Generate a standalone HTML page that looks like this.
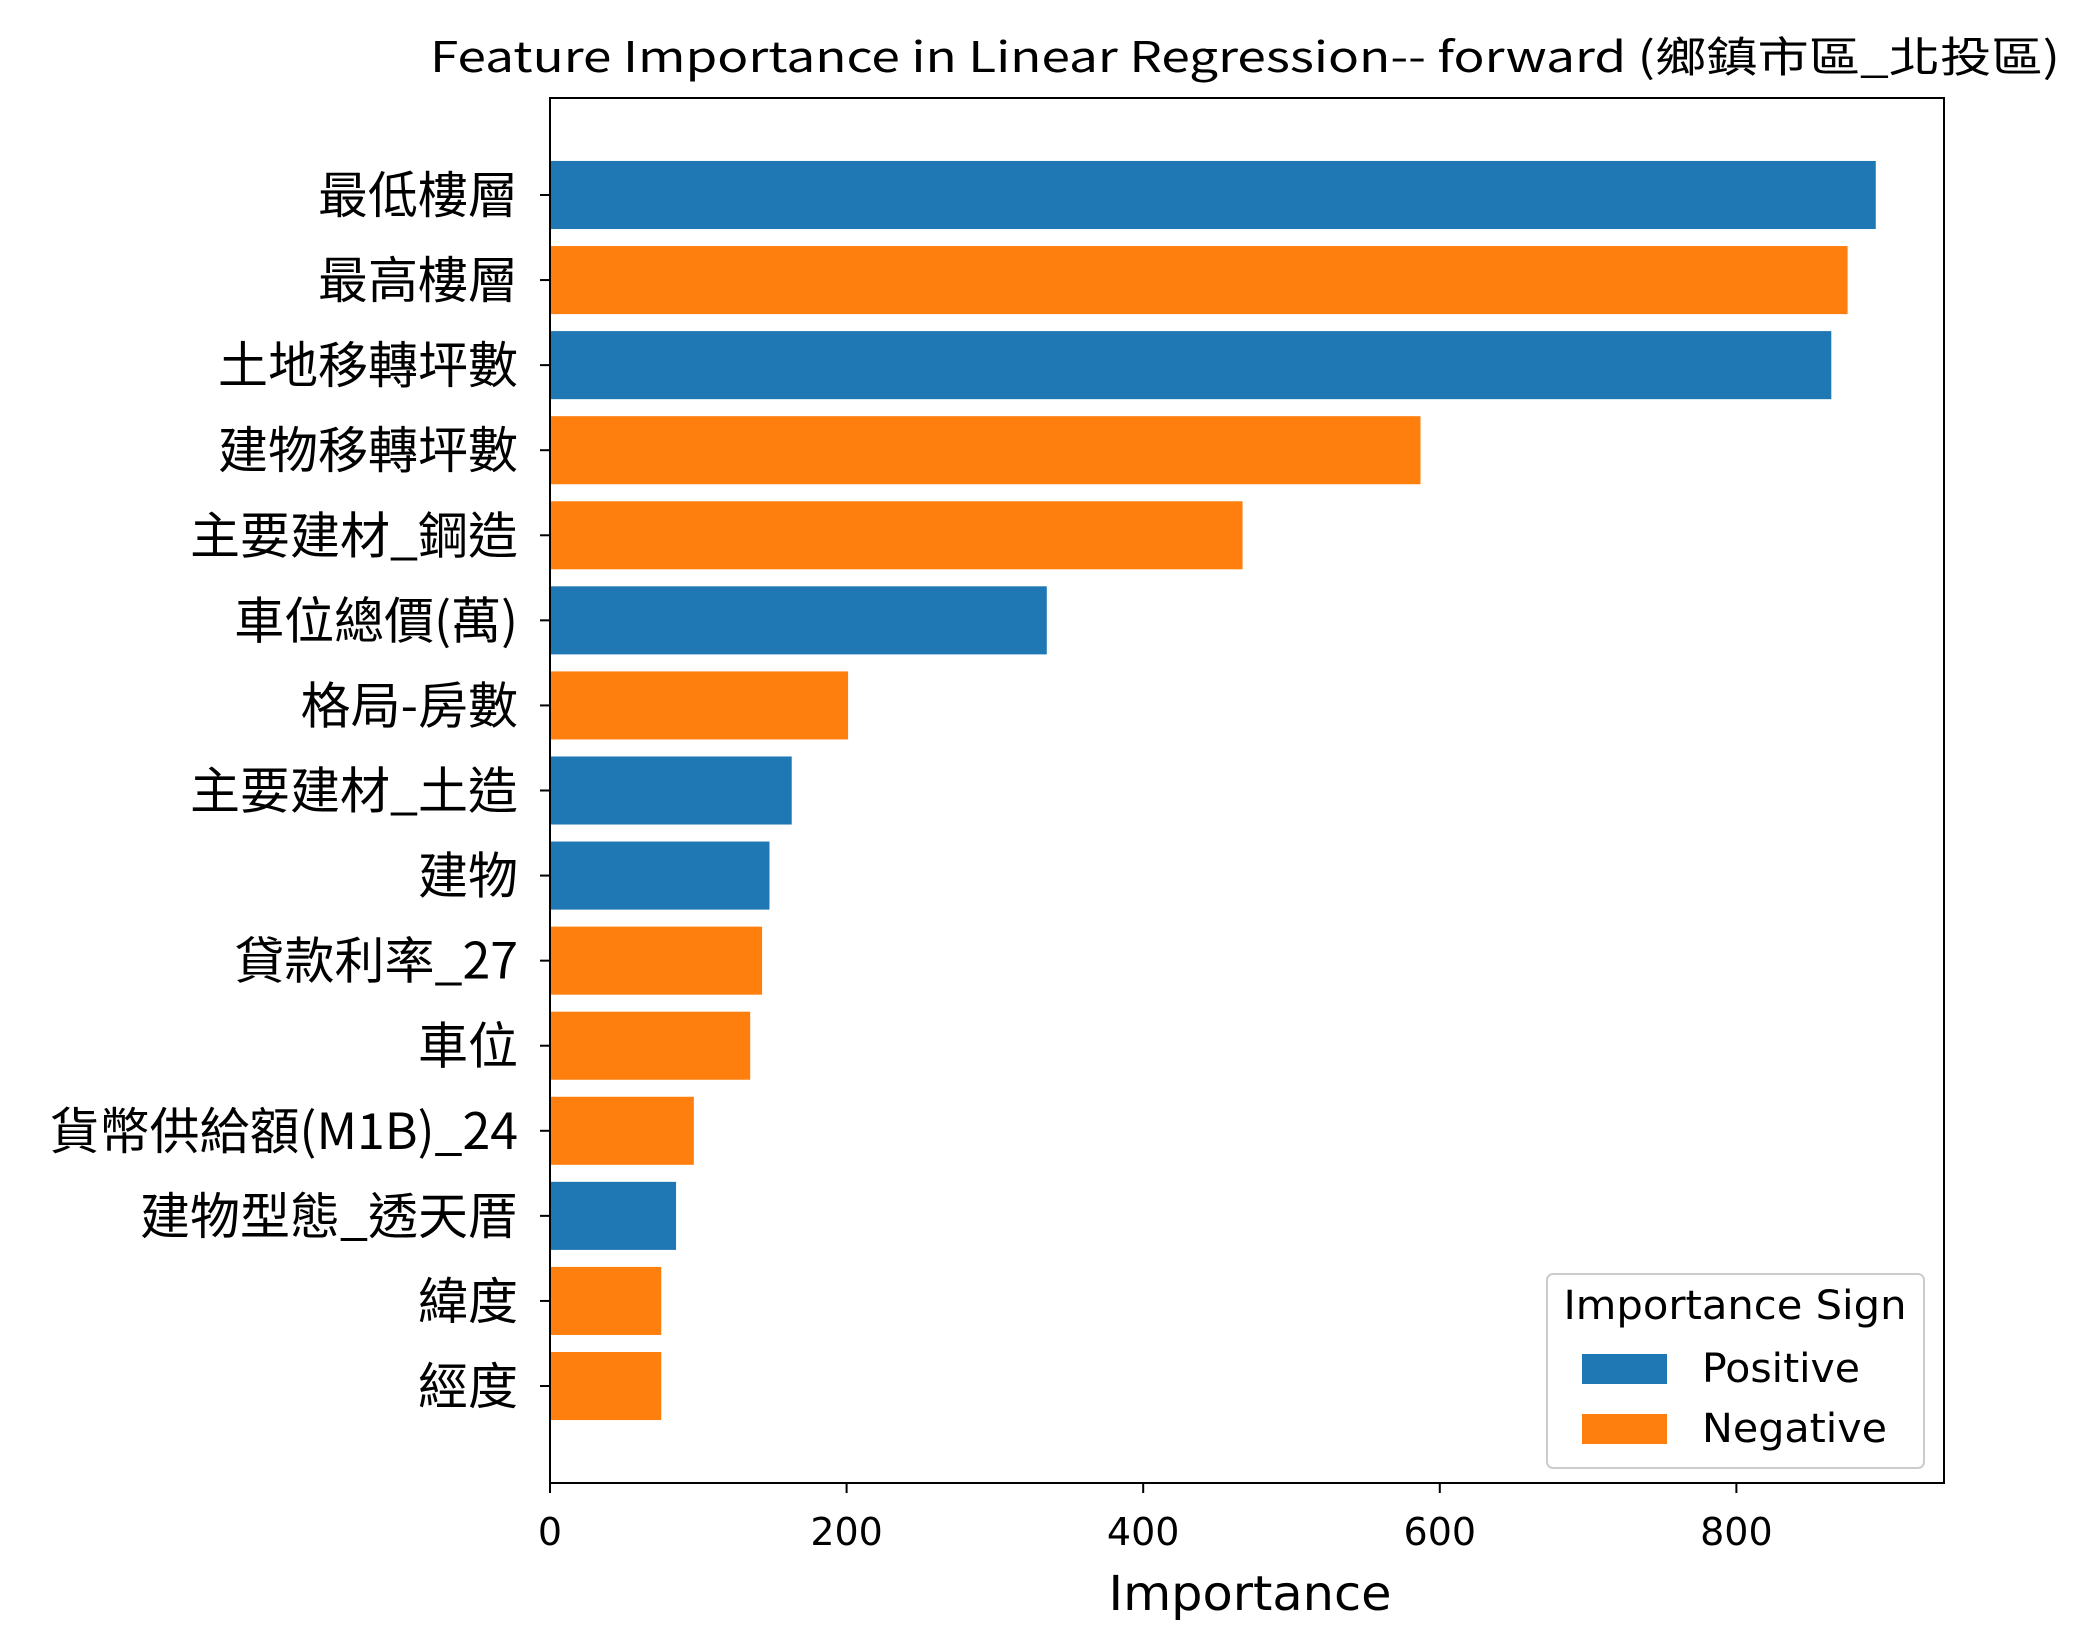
<!DOCTYPE html>
<html><head><meta charset="utf-8"><style>
html,body{margin:0;padding:0;background:#fff}
svg{display:block}
text{font-family:"DejaVu Sans","Noto Sans CJK TC",sans-serif;fill:#000}
.cjk{font-family:"Noto Sans CJK TC","DejaVu Sans",sans-serif}
</style></head><body>
<svg id="chart" width="2088" height="1647" viewBox="0 0 2088 1647" xmlns="http://www.w3.org/2000/svg">
<text x="1245" y="72" font-size="42" text-anchor="middle" class="cjk" textLength="1630" lengthAdjust="spacingAndGlyphs">Feature Importance in Linear Regression-- forward (鄉鎮市區_北投區)</text>
<g id="bars"></g>
<g id="yticks"></g>
<g id="xticks"></g>
<rect x="550" y="98" width="1394" height="1385" fill="none" stroke="#000" stroke-width="2"/>
<text x="1250" y="1610" font-size="48" text-anchor="middle" textLength="283" lengthAdjust="spacingAndGlyphs">Importance</text>
<g>
<rect x="1547" y="1274" width="377" height="194" rx="6" fill="#fff" stroke="#ccc" stroke-width="2"/>
<text x="1735" y="1319" font-size="40" text-anchor="middle" textLength="343" lengthAdjust="spacingAndGlyphs">Importance Sign</text>
<rect x="1582" y="1354" width="85" height="30" fill="#1f77b4"/>
<text x="1702" y="1382" font-size="40" textLength="158" lengthAdjust="spacingAndGlyphs">Positive</text>
<rect x="1582" y="1414" width="85" height="30" fill="#ff7f0e"/>
<text x="1702" y="1442" font-size="40" textLength="185" lengthAdjust="spacingAndGlyphs">Negative</text>
</g>
</svg>
<script>
const features = ["最低樓層","最高樓層","土地移轉坪數","建物移轉坪數","主要建材_鋼造","車位總價(萬)","格局-房數","主要建材_土造","建物","貸款利率_27","車位","貨幣供給額(M1B)_24","建物型態_透天厝","緯度","經度"];
const importance = [894,875,864,587,467,335,201,163,148,143,135,97,85,75,75];
const signs = ["Positive","Negative","Positive","Negative","Negative","Positive","Negative","Positive","Positive","Negative","Negative","Negative","Positive","Negative","Negative"];
const xTicks = [0,200,400,600,800];

const NS = "http://www.w3.org/2000/svg";
const L = 550, R = 1944, T = 98, B = 1483, XMAX = 940;
const n = features.length;
const xs = v => L + v / XMAX * (R - L);
const margin = (n - 1 + 0.8) * 0.05 + 0.4;
const ys = i => T + (i + margin) / (n - 1 + 2 * margin) * (B - T);
const step = ys(1) - ys(0);
const bh = step * 0.8;
const colors = {Positive:"#1f77b4", Negative:"#ff7f0e"};
const gb = document.getElementById("bars");
const gy = document.getElementById("yticks");
const gx = document.getElementById("xticks");
function mk(tag, attrs, parent){const e=document.createElementNS(NS,tag);for(const k in attrs)e.setAttribute(k,attrs[k]);parent.appendChild(e);return e;}
features.forEach((f,i)=>{
  const r = mk("rect",{x:xs(0),y:ys(i)-bh/2,width:xs(importance[i])-xs(0),height:bh,fill:colors[signs[i]]},gb);
  
  
  const t = mk("line",{x1:L-10,x2:L,y1:ys(i),y2:ys(i),stroke:"#000","stroke-width":2},gy);
  
  
  const lb = mk("text",{x:L-32,y:ys(i)+18,"font-size":50,"text-anchor":"end","class":"cjk"},gy);
  lb.textContent = f;
  
  
});
xTicks.forEach(v=>{
  const t = mk("line",{x1:xs(v),x2:xs(v),y1:B,y2:B+10,stroke:"#000","stroke-width":2},gx);
  
  
  const lb = mk("text",{x:xs(v),y:B+62,"font-size":38,"text-anchor":"middle"},gx);
  lb.textContent = v;
  
  
});
</script>
</body></html>
